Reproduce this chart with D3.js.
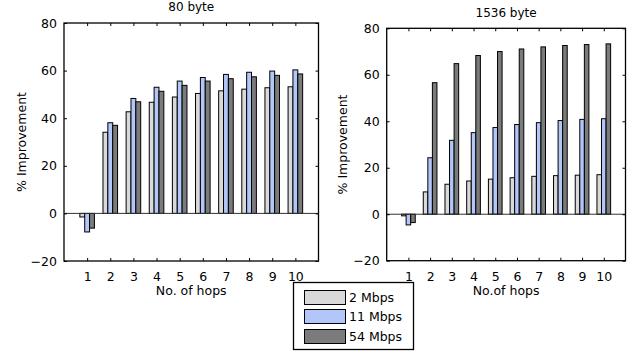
<!DOCTYPE html>
<html><head><meta charset="utf-8">
<script src="https://cdn.jsdelivr.net/npm/d3@7"></script>
<style>
html,body{margin:0;padding:0;background:#fff;}
svg{display:block;font-family:"DejaVu Sans",Arial,Helvetica,sans-serif;}
</style></head>
<body>
<svg id="c" width="636" height="352"></svg>
<script>
const hops = [1,2,3,4,5,6,7,8,9,10];
const yTicks = [-20,0,20,40,60,80];
const seriesNames = ["2 Mbps","11 Mbps","54 Mbps"];
const seriesColors = ["#d9d9d9","#b2c6fa","#7b7b7b"];
// 80 byte
const b80_2  = [-1.5, 34.1, 42.7, 46.7, 48.9, 50.4, 51.5, 52.2, 52.8, 53.2];
const b80_11 = [-7.8, 38.1, 48.3, 53.0, 55.6, 57.1, 58.4, 59.3, 59.8, 60.3];
const b80_54 = [-6.2, 37.0, 46.9, 51.3, 53.8, 55.6, 56.6, 57.4, 58.0, 58.6];
// 1536 byte
const b1536_2  = [-0.7, 9.6, 12.9, 14.3, 15.1, 15.7, 16.3, 16.6, 16.8, 17.0];
const b1536_11 = [-4.6, 24.3, 31.8, 35.1, 37.3, 38.6, 39.4, 40.3, 40.8, 41.1];
const b1536_54 = [-3.6, 56.6, 64.8, 68.3, 70.0, 71.1, 72.0, 72.6, 73.0, 73.3];

const svg = d3.select("#c");
const FONT = "DejaVu Sans, Arial, sans-serif";
const FS = 12.5;
const fmt = v => v < 0 ? "\u2212" + Math.abs(v) : String(v);

function panel(o){
  const x = d3.scaleLinear().domain([0,11]).range([o.x0,o.x1]);
  const y = d3.scaleLinear().domain([-20,80]).range([o.y1,o.y0]);
  const g = svg.append("g");
  const bw = 0.21;
  const series = o.data;
  series.forEach((vals,si)=>{
    g.selectAll(null).data(hops.map((h,i)=>({h, v:vals[i]}))).enter().append("rect")
      .attr("x", d => x(d.h + (si-1)*bw - bw/2))
      .attr("width", x(bw)-x(0))
      .attr("y", d => y(Math.max(0,d.v)))
      .attr("height", d => Math.abs(y(d.v)-y(0)))
      .attr("fill", seriesColors[si])
      .attr("stroke","#000").attr("stroke-width",1);
  });
  // zero baseline
  g.append("line").attr("x1",x(0)).attr("x2",x(11)).attr("y1",y(0)).attr("y2",y(0))
    .attr("stroke","#333").attr("stroke-width",1);
  // axes
  const tl = 3;
  const axL = d3.axisLeft(y).tickValues(yTicks).tickFormat(fmt).tickSizeInner(-tl).tickSizeOuter(0).tickPadding(4+tl);
  const axR = d3.axisRight(y).tickValues(yTicks).tickFormat("").tickSizeInner(-tl).tickSizeOuter(0);
  const axB = d3.axisBottom(x).tickValues(hops).tickFormat(d=>d).tickSizeInner(-tl).tickSizeOuter(0).tickPadding(8+tl);
  const axT = d3.axisTop(x).tickValues(hops).tickFormat("").tickSizeInner(-tl).tickSizeOuter(0);
  [[axL,`translate(${o.x0},0)`],[axR,`translate(${o.x1},0)`],[axB,`translate(0,${o.y1})`],[axT,`translate(0,${o.y0})`]]
    .forEach(([a,t])=>{
      const ag = g.append("g").attr("transform",t).call(a);
      ag.select(".domain").remove();
      ag.selectAll("text").attr("font-size",FS).attr("fill","#000").attr("font-family",FONT);
      ag.selectAll("line").attr("stroke","#000");
    });
  g.append("rect").attr("x",o.x0).attr("y",o.y0).attr("width",o.x1-o.x0).attr("height",o.y1-o.y0)
    .attr("fill","none").attr("stroke","#000").attr("stroke-width",1.3);
  g.append("text").attr("x",(o.x0+o.x1)/2).attr("y",o.titleY).attr("text-anchor","middle")
    .attr("font-size",12).text(o.title);
  g.append("text").attr("x",(o.x0+o.x1)/2).attr("y",295).attr("text-anchor","middle")
    .attr("font-size",FS).text(o.xlabel);
  g.append("text").attr("transform",`translate(${o.ylabX},${(o.y0+o.y1)/2}) rotate(-90)`)
    .attr("text-anchor","middle").attr("font-size",FS).text("% Improvement");
}

panel({x0:64,x1:318.5,y0:23,y1:261,title:"80 byte",titleY:11,xlabel:"No. of hops",ylabX:26,data:[b80_2,b80_11,b80_54]});
panel({x0:386.7,x1:625.5,y0:28.3,y1:260.7,title:"1536 byte",titleY:17,xlabel:"No.of hops",ylabX:347,data:[b1536_2,b1536_11,b1536_54]});

// legend
const lg = svg.append("g");
lg.append("rect").attr("x",293.5).attr("y",282.5).attr("width",120).attr("height",67)
  .attr("fill","#fff").attr("stroke","#000").attr("stroke-width",1.3);
const rowY = [290.5,309.5,329.5];
seriesNames.forEach((n,i)=>{
  lg.append("rect").attr("x",304.5).attr("y",rowY[i]).attr("width",41).attr("height",14)
    .attr("fill",seriesColors[i]).attr("stroke","#000").attr("stroke-width",1);
  lg.append("text").attr("x",349).attr("y",rowY[i]+11.5).attr("font-size",FS).text(n);
});
</script>
</body></html>
